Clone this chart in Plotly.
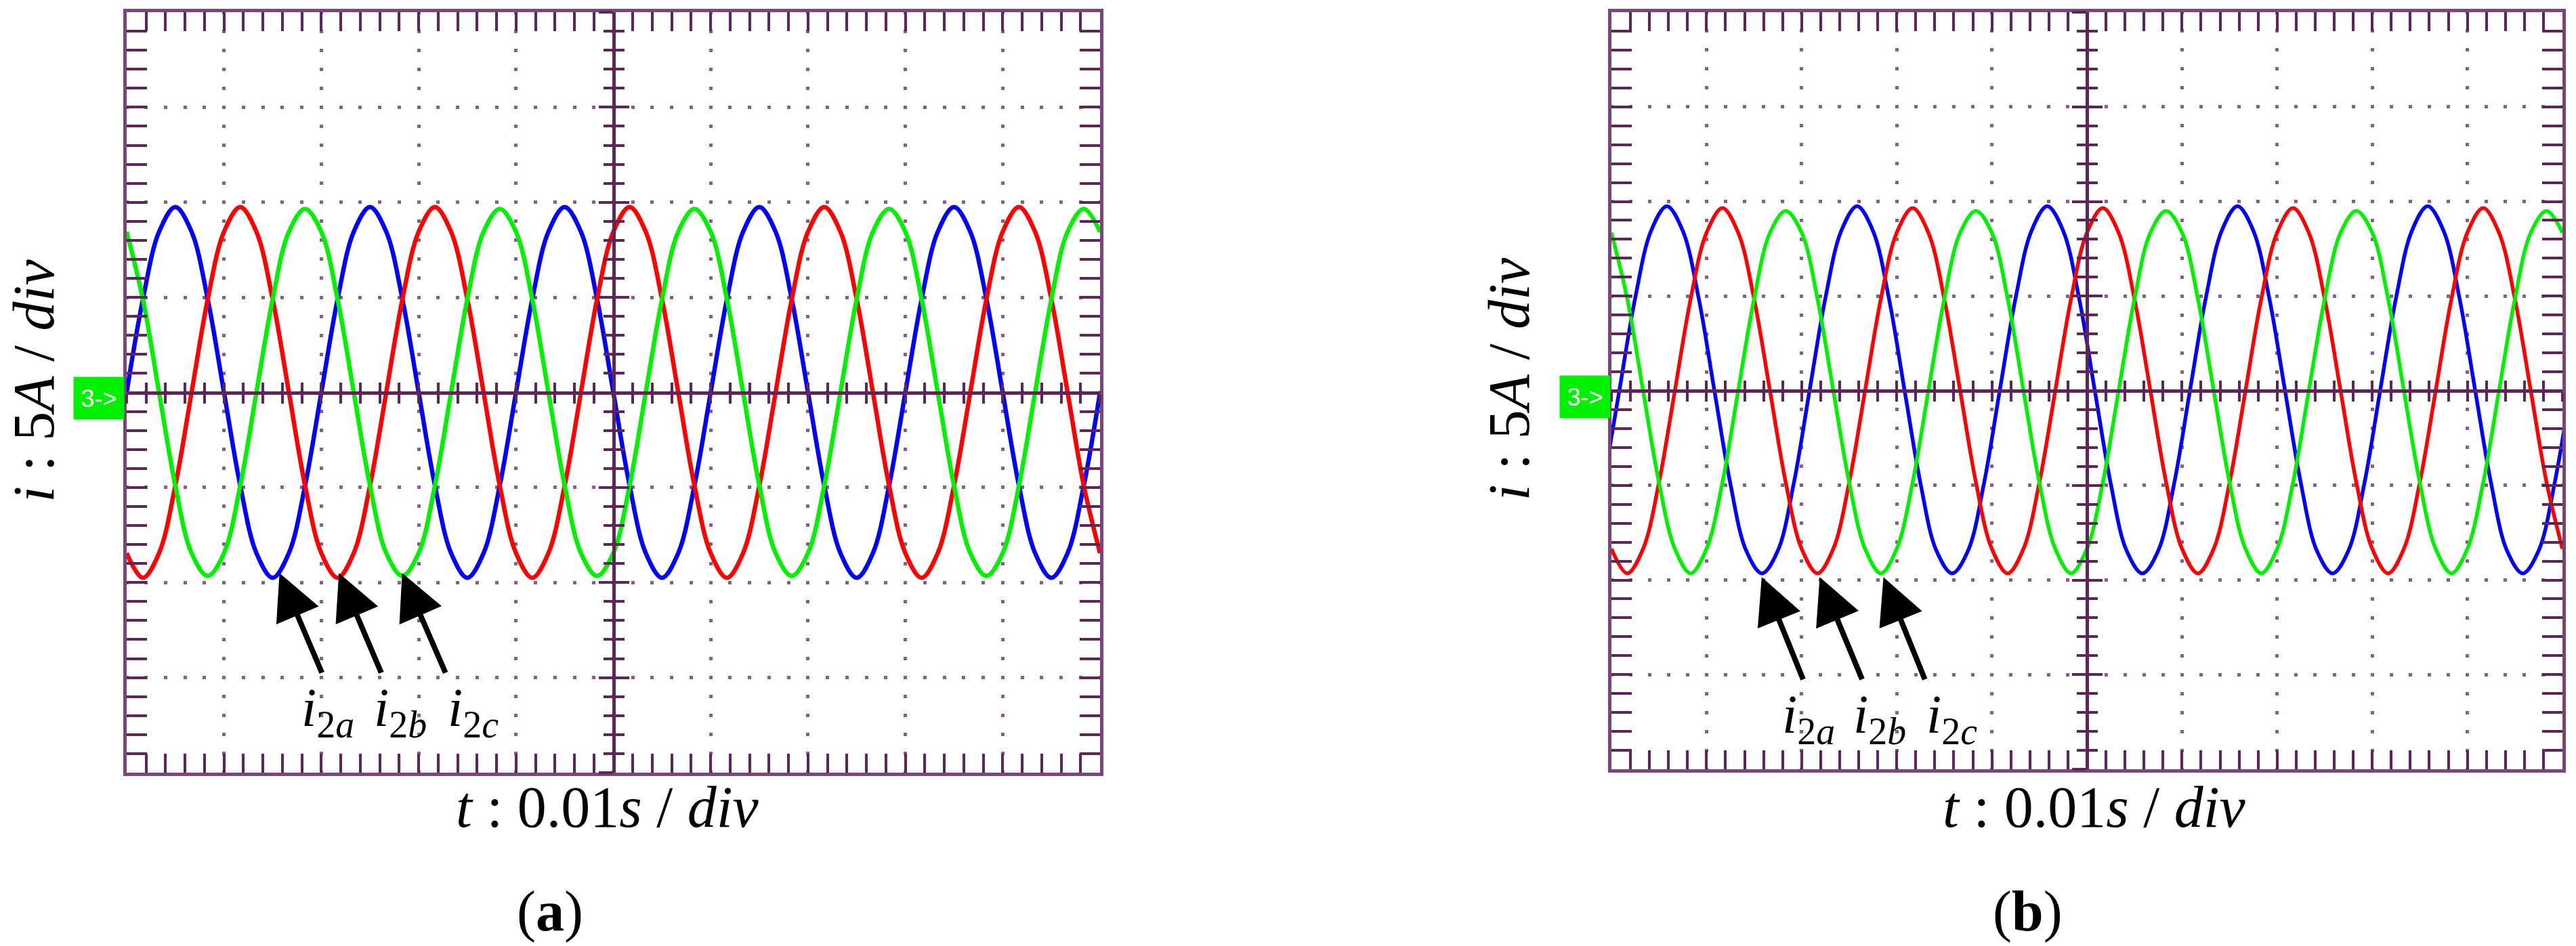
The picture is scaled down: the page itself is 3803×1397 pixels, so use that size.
import plotly.graph_objects as go

W, H = 3803, 1397

# time base in ms (0.01 s/div = 10 ms per division), one sample every 1/12 cycle
T_MS = [0.00, 1.67, 3.33, 5.00, 6.67, 8.33, 10.00, 11.67, 13.33, 15.00, 16.67, 18.33,
        20.00, 21.67, 23.33, 25.00, 26.67, 28.33, 30.00, 31.67, 33.33, 35.00, 36.67, 38.33,
        40.00, 41.67, 43.33, 45.00, 46.67, 48.33, 50.00, 51.67, 53.33, 55.00, 56.67, 58.33,
        60.00, 61.67, 63.33, 65.00, 66.67, 68.33, 70.00, 71.67, 73.33, 75.00, 76.67, 78.33,
        80.00, 81.67, 83.33, 85.00, 86.67, 88.33, 90.00, 91.67, 93.33, 95.00, 96.67, 98.33,
        100.00]
# i2a in (b) is sampled on its own grid (it lags ~0.8 ms behind (a))
T_MS_B_A = [-0.83, 0.83, 2.50, 4.17, 5.83, 7.50, 9.17, 10.83, 12.50, 14.17, 15.83, 17.50,
            19.17, 20.83, 22.50, 24.17, 25.83, 27.50, 29.17, 30.83, 32.50, 34.17, 35.83, 37.50,
            39.17, 40.83, 42.50, 44.17, 45.83, 47.50, 49.17, 50.83, 52.50, 54.17, 55.83, 57.50,
            59.17, 60.83, 62.50, 64.17, 65.83, 67.50, 69.17, 70.83, 72.50, 74.17, 75.83, 77.50,
            79.17, 80.83, 82.50, 84.17, 85.83, 87.50, 89.17, 90.83, 92.50, 94.17, 95.83, 97.50,
            99.17, 100.83]

# currents, in divisions (5 A/div)
# (a)
I2A_A = [0, 0.98, 1.69, 1.95, 1.69, 0.98, 0, -0.98, -1.69, -1.95, -1.69, -0.98,
         0, 0.98, 1.69, 1.95, 1.69, 0.98, 0, -0.98, -1.69, -1.95, -1.69, -0.98,
         0, 0.98, 1.69, 1.95, 1.69, 0.98, 0, -0.98, -1.69, -1.95, -1.69, -0.98,
         0, 0.98, 1.69, 1.95, 1.69, 0.98, 0, -0.98, -1.69, -1.95, -1.69, -0.98,
         0, 0.98, 1.69, 1.95, 1.69, 0.98, 0, -0.98, -1.69, -1.95, -1.69, -0.98,
         0]
I2B_A = [-1.69, -1.95, -1.69, -0.98, 0, 0.98, 1.69, 1.95, 1.69, 0.98, 0, -0.98,
         -1.69, -1.95, -1.69, -0.98, 0, 0.98, 1.69, 1.95, 1.69, 0.98, 0, -0.98,
         -1.69, -1.95, -1.69, -0.98, 0, 0.98, 1.69, 1.95, 1.69, 0.98, 0, -0.98,
         -1.69, -1.95, -1.69, -0.98, 0, 0.98, 1.69, 1.95, 1.69, 0.98, 0, -0.98,
         -1.69, -1.95, -1.69, -0.98, 0, 0.98, 1.69, 1.95, 1.69, 0.98, 0, -0.98,
         -1.69]
I2C_A = [1.69, 0.98, 0, -0.98, -1.69, -1.93, -1.69, -0.98, 0, 0.98, 1.69, 1.93,
         1.69, 0.98, 0, -0.98, -1.69, -1.93, -1.69, -0.98, 0, 0.98, 1.69, 1.93,
         1.69, 0.98, 0, -0.98, -1.69, -1.93, -1.69, -0.98, 0, 0.98, 1.69, 1.93,
         1.69, 0.98, 0, -0.98, -1.69, -1.93, -1.69, -0.98, 0, 0.98, 1.69, 1.93,
         1.69, 0.98, 0, -0.98, -1.69, -1.93, -1.69, -0.98, 0, 0.98, 1.69, 1.93,
         1.69]
# (b)
I2A_B = [-0.98, 0, 0.98, 1.69, 1.95, 1.69, 0.98, 0, -0.98, -1.69, -1.93, -1.69,
         -0.98, 0, 0.98, 1.69, 1.95, 1.69, 0.98, 0, -0.98, -1.69, -1.93, -1.69,
         -0.98, 0, 0.98, 1.69, 1.95, 1.69, 0.98, 0, -0.98, -1.69, -1.93, -1.69,
         -0.98, 0, 0.98, 1.69, 1.95, 1.69, 0.98, 0, -0.98, -1.69, -1.93, -1.69,
         -0.98, 0, 0.98, 1.69, 1.95, 1.69, 0.98, 0, -0.98, -1.69, -1.93, -1.69,
         -0.98, 0]
I2B_B = [-1.67, -1.93, -1.67, -0.97, 0, 0.97, 1.67, 1.93, 1.67, 0.97, 0, -0.97,
         -1.67, -1.93, -1.67, -0.97, 0, 0.97, 1.67, 1.93, 1.67, 0.97, 0, -0.97,
         -1.67, -1.93, -1.67, -0.97, 0, 0.97, 1.67, 1.93, 1.67, 0.97, 0, -0.97,
         -1.67, -1.93, -1.67, -0.97, 0, 0.97, 1.67, 1.93, 1.67, 0.97, 0, -0.97,
         -1.67, -1.93, -1.67, -0.97, 0, 0.97, 1.67, 1.93, 1.67, 0.97, 0, -0.97,
         -1.67]
I2C_B = [1.67, 0.97, 0, -0.97, -1.67, -1.93, -1.67, -0.97, 0, 0.97, 1.67, 1.90,
         1.67, 0.97, 0, -0.97, -1.67, -1.93, -1.67, -0.97, 0, 0.97, 1.67, 1.90,
         1.67, 0.97, 0, -0.97, -1.67, -1.93, -1.67, -0.97, 0, 0.97, 1.67, 1.90,
         1.67, 0.97, 0, -0.97, -1.67, -1.93, -1.67, -0.97, 0, 0.97, 1.67, 1.90,
         1.67, 0.97, 0, -0.97, -1.67, -1.93, -1.67, -0.97, 0, 0.97, 1.67, 1.90,
         1.67]

PHASES = ["a", "b", "c"]
COLORS = ["#0000ff", "#ff0000", "#00f000"]

# arrow tips / tails and label centres (ms, div)
ARROWS_A = [((15.7, -1.90), (20.1, -2.96)), ((21.8, -1.90), (26.2, -2.96)), ((28.3, -1.90), (32.8, -2.96))]
LABELS_A = [20.7, 28.1, 35.6]
ARROWS_B = [((15.8, -1.97), (20.2, -3.06)), ((21.9, -1.97), (26.4, -3.06)), ((28.6, -1.97), (33.0, -3.06))]
LABELS_B = [20.7, 28.2, 35.8]

FRAME = "#7a4678"
TICK = "#5e2558"
GRID = "#875e86"
SERIF = "Liberation Serif, Times New Roman, serif"

panels = [
    dict(tag="a", times=[T_MS, T_MS, T_MS], series=[I2A_A, I2B_A, I2C_A], lw=6.5,
         xd=[187 / W, 1624 / W], yd=[1 - 1141 / H, 1 - 18 / H],
         arrows=ARROWS_A, labels=LABELS_A, label_y=-3.36,
         ytitle_x=50 / W, xtitle_x=897 / W, cap_x=812 / W, box_x=146 / W, box_y=1 - 588 / H),
    dict(tag="b", times=[T_MS_B_A, T_MS, T_MS], series=[I2A_B, I2B_B, I2C_B], lw=5.5,
         xd=[2379 / W, 3783 / W], yd=[1 - 1136 / H, 1 - 18 / H],
         arrows=ARROWS_B, labels=LABELS_B, label_y=-3.46,
         ytitle_x=2228 / W, xtitle_x=3092 / W, cap_x=2993 / W, box_x=2340 / W, box_y=1 - 586 / H),
]

fig = go.Figure()
layout = dict(width=W, height=H, autosize=False, margin=dict(l=0, r=0, t=0, b=0),
              paper_bgcolor="white", plot_bgcolor="white", showlegend=False)
annotations = []

for p_i, p in enumerate(panels):
    n = 1 + p_i * 5
    xm = "x" if p_i == 0 else "x%d" % (n + 1)
    ym = "y" if p_i == 0 else "y%d" % (n + 1)
    xk = "xaxis" if p_i == 0 else "xaxis%d" % (n + 1)
    yk = "yaxis" if p_i == 0 else "yaxis%d" % (n + 1)
    xc = (p["xd"][0] + p["xd"][1]) / 2
    yc = (p["yd"][0] + p["yd"][1]) / 2
    w_px = (p["xd"][1] - p["xd"][0]) * W
    h_px = (p["yd"][1] - p["yd"][0]) * H
    sx = w_px / 50  # dot spacing along horizontal grid lines
    sy = h_px / 40  # dot spacing along vertical grid lines

    for name, ts, ys, col in zip(PHASES, p["times"], p["series"], COLORS):
        fig.add_trace(go.Scatter(x=ts, y=ys, mode="lines", name="i2" + name,
                                 line=dict(color=col, width=p["lw"], shape="spline", smoothing=1),
                                 xaxis=xm, yaxis=ym, hoverinfo="skip"))

    layout[xk] = dict(domain=p["xd"], range=[0, 100], anchor=ym, showline=True, linecolor=FRAME,
                      linewidth=5, mirror="allticks", ticks="inside", ticklen=28, tickwidth=4,
                      tickcolor=TICK, tick0=0, dtick=10, showticklabels=False, zeroline=False,
                      showgrid=True, gridcolor=GRID, gridwidth=5,
                      griddash="2.5px,%.2fpx,2.5px,0px" % (sy - 5),
                      minor=dict(ticks="inside", ticklen=15, tickwidth=4, tickcolor=TICK,
                                 tick0=0, dtick=2, showgrid=False),
                      fixedrange=True)
    layout[yk] = dict(domain=p["yd"], range=[-4, 4], anchor=xm, showline=True, linecolor=FRAME,
                      linewidth=5, mirror="allticks", ticks="inside", ticklen=30, tickwidth=4,
                      tickcolor=TICK, tick0=0, dtick=1, showticklabels=False, zeroline=False,
                      showgrid=True, gridcolor=GRID, gridwidth=5,
                      griddash="2.5px,%.2fpx,2.5px,0px" % (sx - 5),
                      minor=dict(ticks="inside", ticklen=14, tickwidth=4, tickcolor=TICK,
                                 tick0=0, dtick=0.2, showgrid=False),
                      fixedrange=True)

    # centre cross-hair: two overlaid axes each, ticks pointing both ways
    for j, side_ticks in enumerate(["outside", "inside"]):
        ax_n = n + 2 + j
        layout["xaxis%d" % ax_n] = dict(overlaying=xm, anchor="free", position=yc, side="bottom",
                                        domain=p["xd"], range=[0, 100], showline=True,
                                        linecolor=TICK, linewidth=5, ticks=side_ticks,
                                        ticklen=13, tickwidth=4, tickcolor=TICK, tick0=0, dtick=2,
                                        showticklabels=False, showgrid=False, zeroline=False,
                                        fixedrange=True)
        layout["yaxis%d" % ax_n] = dict(overlaying=ym, anchor="free", position=xc, side="left",
                                        domain=p["yd"], range=[-4, 4], showline=True,
                                        linecolor=TICK, linewidth=5, ticks=side_ticks,
                                        ticklen=20, tickwidth=4, tickcolor=TICK, tick0=0, dtick=1,
                                        minor=dict(ticks=side_ticks, ticklen=13, tickwidth=4,
                                                   tickcolor=TICK, tick0=0, dtick=0.2),
                                        showticklabels=False, showgrid=False, zeroline=False,
                                        fixedrange=True)
        fig.add_trace(go.Scatter(x=[], y=[], xaxis="x%d" % ax_n, yaxis=ym, showlegend=False,
                                 hoverinfo="skip"))
        fig.add_trace(go.Scatter(x=[], y=[], xaxis=xm, yaxis="y%d" % ax_n, showlegend=False,
                                 hoverinfo="skip"))

    # arrows and phase labels
    for (tip, tail), lx, name in zip(p["arrows"], p["labels"], PHASES):
        annotations.append(dict(x=tip[0], y=tip[1], ax=tail[0], ay=tail[1], xref=xm, yref=ym,
                                axref=xm, ayref=ym, text="", showarrow=True, arrowhead=2,
                                arrowsize=1.7, arrowwidth=8, arrowcolor="black", standoff=0))
        annotations.append(dict(x=lx, y=p["label_y"], xref=xm, yref=ym, showarrow=False,
                                text="<i>i</i><sub>2<i>%s</i></sub>" % name,
                                font=dict(family=SERIF, size=80, color="black"),
                                xanchor="center", yanchor="middle"))

    # axis titles and caption
    annotations.append(dict(x=p["ytitle_x"], y=yc + 0.012, xref="paper", yref="paper", showarrow=False,
                            textangle=-90, text="<i>i</i> : 5<i>A</i> / <i>div</i>",
                            font=dict(family=SERIF, size=86, color="black"),
                            xanchor="center", yanchor="middle"))
    annotations.append(dict(x=p["xtitle_x"], y=1 - 1192 / H, xref="paper", yref="paper",
                            showarrow=False, text="<i>t</i> : 0.01<i>s</i> / <i>div</i>",
                            font=dict(family=SERIF, size=86, color="black"),
                            xanchor="center", yanchor="middle"))
    annotations.append(dict(x=p["cap_x"], y=1 - 1346 / H, xref="paper", yref="paper",
                            showarrow=False, text="(<b>%s</b>)" % p["tag"],
                            font=dict(family=SERIF, size=84, color="black"),
                            xanchor="center", yanchor="middle"))
    # channel 3 ground marker
    annotations.append(dict(x=p["box_x"], y=p["box_y"], xref="paper", yref="paper",
                            showarrow=False, text="3->", width=74, height=62,
                            bgcolor="#00f000", borderpad=0,
                            font=dict(family="Liberation Sans Narrow, Liberation Sans, sans-serif",
                                      size=36, color="white"),
                            xanchor="center", yanchor="middle"))

layout["annotations"] = annotations
fig.update_layout(**layout)

fig.write_html("out.html", config={"displayModeBar": False, "staticPlot": True},
               post_script="document.body.style.margin='0';")
